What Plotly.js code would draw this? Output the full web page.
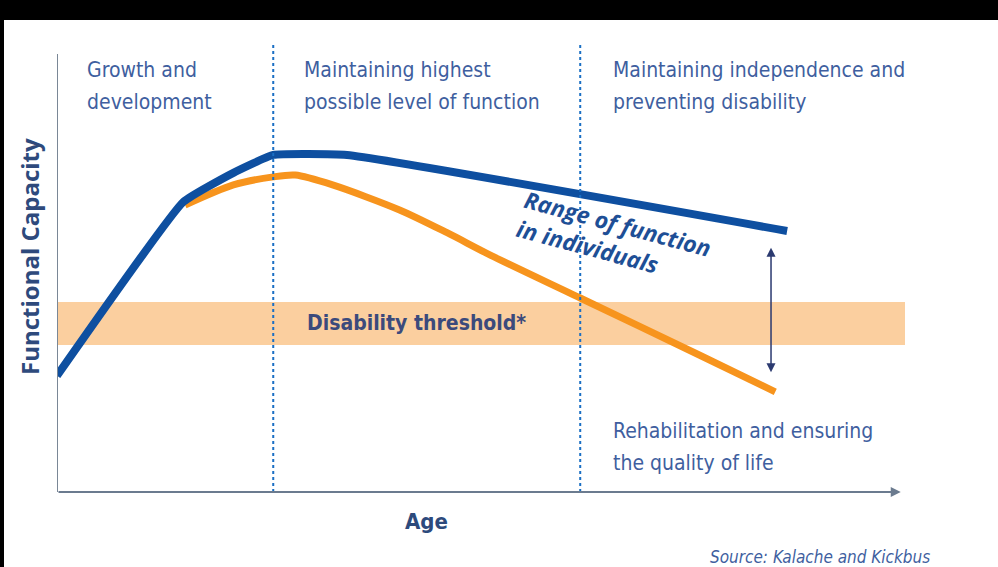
<!DOCTYPE html>
<html>
<head>
<meta charset="utf-8">
<script src="https://cdn.plot.ly/plotly-3.0.1.min.js"></script>
<style>
  html, body { margin:0; padding:0; background:#ffffff; overflow:hidden; }
  #chart { position:absolute; left:0; top:0; width:998px; height:567px; }
  .bar { position:absolute; background:#000; }
</style>
</head>
<body>
<div id="chart"></div>
<div class="bar" style="left:0;top:0;width:998px;height:20px;"></div>
<div class="bar" style="left:0;top:0;width:4px;height:567px;"></div>
<script>
// Age positions (0-100 scale) and functional capacity (0-100 scale)
const bestAge   = [0, 14.9, 20.8, 25.5, 34.2, 86.1];
const bestCap   = [26.0, 64.9, 71.4, 75.4, 75.4, 58.4];
const worstAge  = [15.1, 20.8, 25.5, 28.1, 32.5, 40.4, 46.0, 51.1, 61.7, 75.8, 84.7];
const worstCap  = [64.2, 68.7, 70.5, 70.9, 68.7, 63.1, 58.0, 53.0, 43.4, 30.6, 22.4];
const thresholdLow  = 32.9;
const thresholdHigh = 42.5;
const phaseBounds = [25.5, 61.7];
const rangeArrowAge = 84.2;
const rangeArrowTop = 55.0;
const rangeArrowBottom = 26.8;
const phaseLines1 = ["Growth and", "Maintaining highest", "Maintaining independence and"];
const phaseLines2 = ["development", "possible level of function", "preventing disability"];
const phaseLabelX = [3.3, 28.9, 65.3];
const rehabLines = ["Rehabilitation and ensuring", "the quality of life"];

const FONT = '"Liberation Sans Narrow", "DejaVu Sans Condensed", "Roboto", sans-serif';
const TXT = '#3f5f9f';
const W = 848, H = 447, L = 57, B = 492;
const px2x = p => (p - L) / W;          // paper x
const py2y = p => (B - p) / H;          // paper y

const traces = [
  { x: worstAge, y: worstCap, type:'scatter', mode:'lines',
    line:{color:'#f7941d', width:7, shape:'spline', smoothing:0.8}, hoverinfo:'skip' },
  { x: bestAge, y: bestCap, type:'scatter', mode:'lines',
    line:{color:'#0e4fa0', width:8, shape:'spline', smoothing:0.35}, hoverinfo:'skip' }
];

const shapes = [
  { type:'rect', xref:'x', yref:'y', x0:0, x1:100, y0:thresholdLow, y1:thresholdHigh,
    fillcolor:'#fbcf9f', line:{width:0}, layer:'below' },
  { type:'line', xref:'x', yref:'y', x0:0, x1:0, y0:0, y1:98,
    line:{color:'#7a8796', width:2} }
];
phaseBounds.forEach(b => shapes.push({
  type:'line', xref:'x', yref:'paper', x0:b, x1:b, y0:0, y1:1,
  line:{color:'#1a6fc4', width:2, dash:'dot'}
}));

const annotations = [];
const addLine = (xData, pyCenter, text, size) => annotations.push({
  xref:'x', yref:'paper', x:xData, y:py2y(pyCenter), xanchor:'left', yanchor:'middle',
  text:text, showarrow:false, font:{family:FONT, size:size, color:TXT}
});
phaseLines1.forEach((t,i) => addLine(phaseLabelX[i], 70, t, 21));
phaseLines2.forEach((t,i) => addLine(phaseLabelX[i], 102, t, 21));
addLine(65.3, 431, rehabLines[0], 21);
addLine(65.3, 463, rehabLines[1], 21);

annotations.push(
  { xref:'x', yref:'y', x:(416-57)/8.48, y:(thresholdLow+thresholdHigh)/2,
    text:'<b>Disability threshold*</b>', showarrow:false,
    font:{family:FONT, size:21, color:'#3b4a7c'} },
  { xref:'paper', yref:'paper', x:px2x(614), y:py2y(238),
    text:'<b><i>Range of function<br>in individuals</i></b>', showarrow:false, align:'left',
    textangle:15, font:{family:'"Open Sans", sans-serif', size:23, color:'#1e4f96'} },
  // range arrow
  { xref:'x', yref:'y', axref:'x', ayref:'y', x:rangeArrowAge, y:rangeArrowBottom,
    ax:rangeArrowAge, ay:rangeArrowTop, text:'', showarrow:true,
    arrowhead:2, startarrowhead:2, arrowside:'end+start', arrowsize:1.2, arrowwidth:1.5,
    arrowcolor:'#2b3a70' },
  // x axis arrow
  { xref:'x', yref:'y', axref:'x', ayref:'y', x:99.5, y:0, ax:0, ay:0, text:'',
    showarrow:true, arrowhead:2, arrowsize:1, arrowwidth:2, arrowcolor:'#6b7b8f' },
  { xref:'paper', yref:'paper', x:px2x(426), y:py2y(521), xanchor:'center', yanchor:'middle',
    text:'<b>Age</b>', showarrow:false, font:{family:FONT, size:22, color:'#2d4a7c'} },
  { xref:'paper', yref:'paper', x:px2x(29), y:py2y(257), xanchor:'center', yanchor:'middle',
    textangle:-90, text:'<b>Functional Capacity</b>', showarrow:false,
    font:{family:'"Open Sans", sans-serif', size:24, color:'#2e4a7c'} },
  { xref:'paper', yref:'paper', x:px2x(932), y:py2y(557), xanchor:'right', yanchor:'middle',
    text:'<i>Source: Kalache and Kickbus</i>', showarrow:false,
    font:{family:FONT, size:17, color:TXT} }
);

const layout = {
  width:998, height:567,
  margin:{l:57, r:93, t:45, b:75},
  paper_bgcolor:'#ffffff', plot_bgcolor:'#ffffff',
  showlegend:false,
  xaxis:{range:[0,100], showgrid:false, zeroline:false, showticklabels:false, ticks:'', showline:false},
  yaxis:{range:[0,100], showgrid:false, zeroline:false, showticklabels:false, ticks:'', showline:false},
  shapes:shapes, annotations:annotations
};

Plotly.newPlot('chart', traces, layout, {staticPlot:true, displayModeBar:false});
</script>
</body>
</html>
